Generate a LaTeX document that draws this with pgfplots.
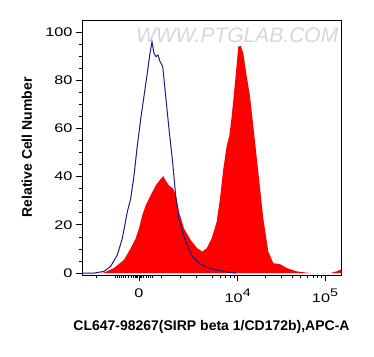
\documentclass[border=0pt]{standalone}
\usepackage{pgfplots}
\pgfplotsset{compat=1.18}
\usepackage{fontspec}
\setmainfont{Liberation Sans}
\newfontfamily\tickfont[FakeStretch=1.3]{Liberation Sans}
\definecolor{navy}{RGB}{28,28,130}
\definecolor{wm}{RGB}{215,215,215}
\begin{document}
\begin{tikzpicture}
\begin{axis}[name=ax, scale only axis, width=259pt, height=255pt,
  xmin=82, xmax=341, ymin=-0.8, ymax=105,
  axis line style={line width=0.8pt},
  tick align=outside, tick pos=left,
  major tick length=6pt, minor tick length=3pt,
  every tick/.style={black, line width=0.8pt},
  ytick={0,20,40,60,80,100}, minor y tick num=3,
  xtick={139,237.7,325},
  xticklabels={0,{10\raisebox{6pt}{\fontsize{11}{11}\selectfont 4}},{10\raisebox{6pt}{\fontsize{11}{11}\selectfont 5}}},
  minor xtick={96.7,115.7,117.5,119.5,121.5,123.5,125.5,128,131,133.5,135.5,136.5,137.5,139.5,140.5,141.5,143.5,146,148,150,152.5,161,180,196.7,212.3,220,225.7,230.3,234.3,265,281.3,292.3,300.7,307.3,313,317.7,321.7},
  ticklabel style={font=\tickfont\fontsize{12.5}{12.5}\selectfont},
  xticklabel style={yshift=-4pt},
  /pgf/number format/assume math mode=true,
  xlabel={CL647-98267(SIRP beta 1/CD172b),APC-A},
  ylabel={Relative Cell Number},
  label style={font=\bfseries\fontsize{14}{14}\selectfont},
  xlabel style={at={(axis description cs:0.5,-0.2039)}, anchor=center},
  ylabel style={at={(axis description cs:-0.2124,0.5)}, anchor=center},
  clip=true,
]
\node[font=\itshape\fontsize{21}{21}\selectfont, text=wm, anchor=center] at (axis description cs:0.599,0.941) {WWW.PTGLAB.COM};
\addplot[fill=red, draw=none] coordinates {
(82,0) (100,0) (104,0.2) (114,2.1) (124,5.5) (130.7,10.3) (135.7,14.4) (139,18.5)
(142.3,24.0) (145.7,28.1) (149,30.9) (152.3,33.6) (155.7,36.3) (160.7,39.1)
(163.3,40.2) (165.7,38.4) (169,36.3) (173.3,35.0) (175.7,32.2) (179,25.4)
(184,18.5) (190.7,13.7) (197.3,10.3) (202.3,8.9) (206.7,10.3) (211.7,14.4)
(216.7,21.3) (220,30.9) (223.3,43.2) (226.7,52.8) (229.3,56.9) (231.7,65.1)
(235,78.9) (238.3,94.0) (240.7,94.2) (243.3,91.2) (246.7,81.6) (250,73.4)
(253.3,61.0) (258.3,41.9) (263.3,22.6) (268.3,8.9) (273.3,4.1) (280,3.7)
(286.7,2.1) (296.7,0.7) (310,0) (330,0) (336.7,0.7) (340,1.4) (341,1.2) (341,0)
} \closedcycle;
\addplot[navy, line width=1pt] coordinates {
(82,0) (94,0) (104,0.7) (110.7,2.8) (117.3,7.5) (122.3,14.4) (127.3,25.4)
(130.7,30.9) (134,40.5) (137.3,52.8) (140.7,63.8) (144,73.4) (147.3,83.0)
(150,91.2) (152,96.0) (154,91.2) (156,89.8) (158,90.5) (160,87.8) (162.7,85.7)
(165.7,73.4) (169,59.7) (172.3,47.3) (175.7,32.2) (179,22.6) (182.3,17.2)
(187.3,11.6) (192.3,6.9) (199,4.1) (207.3,2.3) (215,1.4) (230,0.2) (236,0)
};
\end{axis}
\pgfresetboundingbox
\path[use as bounding box] ([shift={(-82pt,-81pt)}]ax.south west) rectangle ([shift={(33pt,20pt)}]ax.north east);
\end{tikzpicture}
\end{document}
